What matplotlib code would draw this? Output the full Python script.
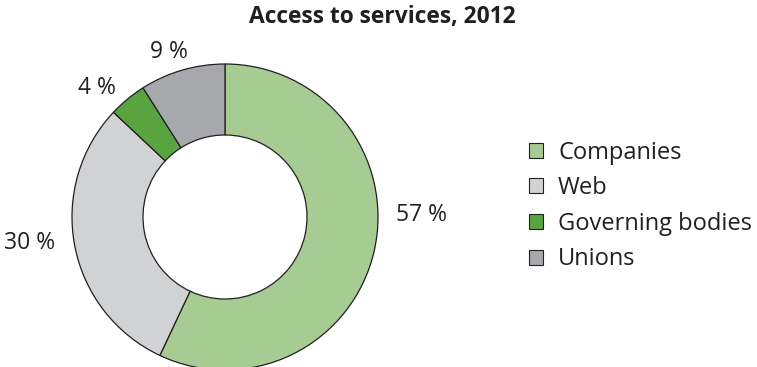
import numpy as np
import matplotlib.pyplot as plt
from matplotlib.patches import Patch

plt.rcParams['font.family'] = ['Open Sans', 'DejaVu Sans']

# Datos
categorias = ['Companies', 'Web', 'Governing bodies', 'Unions']
porcentajes = [57, 30, 4, 9]
colores = ['#a6cb93', '#d1d2d4', '#5aa440', '#a7a8ab']
titulo = 'Access to services, 2012'

# Posiciones de las etiquetas (px, origen abajo-izquierda)
pos_etiquetas = [(421, 152), (30, 124), (97, 279), (169, 315)]

tinta = '#231f20'

fig = plt.figure(figsize=(7.57, 3.67), dpi=100)
ax = fig.add_axes([0, 0, 1, 1])

ax.pie(porcentajes, colors=colores, center=(225, 150), radius=153,
       startangle=90, counterclock=False,
       wedgeprops=dict(width=71, edgecolor=tinta, linewidth=0.9))

ax.set_xlim(0, 757)
ax.set_ylim(0, 367)
ax.set_aspect('equal')
ax.axis('off')

for (x, y), p in zip(pos_etiquetas, porcentajes):
    ax.text(x, y, f'{p} %', ha='center', va='center', fontsize=16.5, color=tinta)

ax.text(382, 350, titulo, ha='center', va='center', fontsize=16.4,
        fontweight='bold', color=tinta)

handles = [Patch(facecolor=c, edgecolor=tinta, linewidth=0.8) for c in colores]
ax.legend(handles, categorias, loc='center left', bbox_to_anchor=(529 / 757, 161 / 367),
          frameon=False, fontsize=17, handlelength=0.6, handleheight=0.6,
          handletextpad=0.63, labelspacing=0.49, borderpad=0, borderaxespad=0,
          labelcolor=tinta)

plt.savefig('out.png', dpi=100)
